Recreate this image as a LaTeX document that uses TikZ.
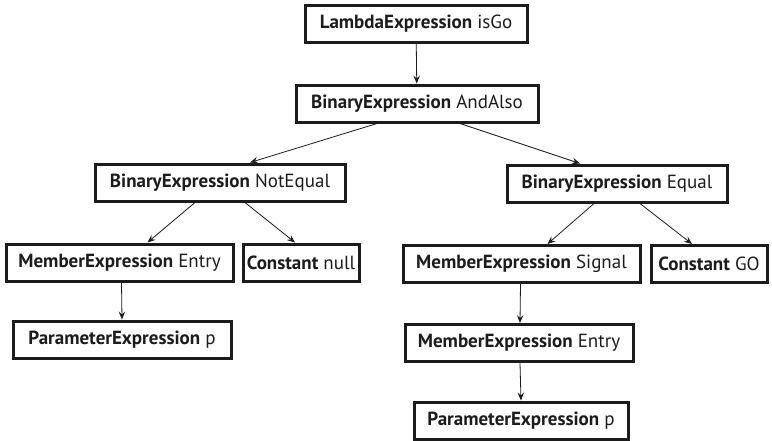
\documentclass[tikz,border=0pt]{standalone}
\usepackage{fontspec}
\setmainfont{PT Sans}
\usetikzlibrary{arrows.meta}
\definecolor{ink}{HTML}{1C1C1C}
\tikzset{
  expr/.style={draw=ink, line width=3pt, fill=white, text=ink,
    inner sep=0pt, minimum height=37pt, font=\fontsize{19}{22}\selectfont},
  link/.style={draw=ink, line width=0.8pt,
    -{Stealth[length=8pt,width=6.5pt,inset=3pt]}}
}
\newcommand{\kind}[2]{\textbf{#1} #2}
\begin{document}
\begin{tikzpicture}[x=1pt,y=-1pt]
\useasboundingbox (0,0) rectangle (772,440);
% expression tree nodes
\node[expr, minimum width=222pt] (lambda)  at (416,24)    {\kind{LambdaExpression}{isGo}};
\node[expr, minimum width=242pt] (andalso) at (417,103.5) {\kind{BinaryExpression}{AndAlso}};
\node[expr, minimum width=250pt] (noteq)   at (220,182.5) {\kind{BinaryExpression}{NotEqual}};
\node[expr, minimum width=220pt] (eq)      at (617,183.5) {\kind{BinaryExpression}{Equal}};
\node[expr, minimum width=227pt] (mentryl) at (119.5,262.5) {\kind{MemberExpression}{Entry}};
\node[expr, minimum width=116pt] (cnull)   at (301,262.5) {\kind{Constant}{null}};
\node[expr, minimum width=237pt] (msignal) at (521.5,264) {\kind{MemberExpression}{Signal}};
\node[expr, minimum width=116pt] (cgo)     at (709,264)   {\kind{Constant}{GO}};
\node[expr, minimum width=218pt] (paraml)  at (122,339.5) {\kind{ParameterExpression}{p}};
\node[expr, minimum width=228pt] (mentryr) at (519,343)   {\kind{MemberExpression}{Entry}};
\node[expr, minimum width=214pt] (paramr)  at (521,420.5) {\kind{ParameterExpression}{p}};
% edges
\draw[link] (lambda) -- (andalso);
\draw[link] ([xshift=-40pt]andalso.south) -- ([xshift=30pt]noteq.north);
\draw[link] ([xshift=43pt]andalso.south) -- ([xshift=-37pt]eq.north);
\draw[link] ([xshift=-25pt]noteq.south) -- ([xshift=28pt]mentryl.north);
\draw[link] ([xshift=25pt]noteq.south) -- ([xshift=-6pt]cnull.north);
\draw[link] ([xshift=-23pt]eq.south) -- ([xshift=26pt]msignal.north);
\draw[link] ([xshift=23pt]eq.south) -- ([xshift=-17pt]cgo.north);
\draw[link] ([xshift=2pt]mentryl.south) -- (paraml.north);
\draw[link] ([xshift=-1pt]msignal.south) -- ([xshift=1pt]mentryr.north);
\draw[link] ([xshift=1pt]mentryr.south) -- (paramr.north);
\end{tikzpicture}
\end{document}
